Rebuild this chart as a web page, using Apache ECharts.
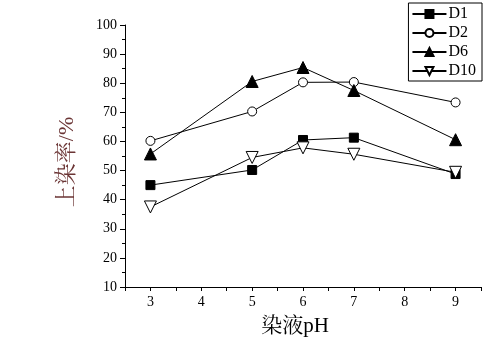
<!DOCTYPE html>
<html>
<head>
<meta charset="utf-8">
<script src="https://cdn.jsdelivr.net/npm/echarts@6/dist/echarts.min.js"></script>
<style>html,body{margin:0;padding:0;background:#fff}#c{width:504px;height:343px}</style>
</head>
<body>
<div id="c"></div>
<script>
const phValues = [3, 5, 6, 7, 9];
const d1 = [45, 50.2, 60.5, 61.3, 48.8];
const d2 = [60.2, 70.3, 80.3, 80.4, 73.4];
const d6 = [55.7, 80.6, 85.4, 77.5, 60.6];
const d10 = [37.5, 54.5, 57.8, 55.6, 49.4];
const seriesNames = ['D1', 'D2', 'D6', 'D10'];
const xAxisName = '染液pH';
const yAxisName = '上染率/%';

const font = '"Liberation Serif","Times New Roman","Noto Serif CJK SC","Noto Sans CJK SC",serif';
const pair = arr => phValues.map((x, i) => [x, arr[i]]);

function mk(name, data, symbol, size, rot, fill) {
  return {
    name, type: 'line', data: pair(data), symbol, symbolSize: size,
    symbolRotate: rot, showSymbol: true,
    lineStyle: {color: '#000', width: 1},
    itemStyle: {color: fill, borderColor: '#000', borderWidth: 1},
    emphasis: {disabled: true}, z: 3
  };
}

const chart = echarts.init(document.getElementById('c'), null, {renderer: 'canvas'});
chart.setOption({
  animation: false,
  backgroundColor: '#fff',
  grid: {left: 125, right: 23, top: 25, bottom: 56},
  legend: {
    orient: 'vertical', right: 22, top: 3,
    itemWidth: 34, itemHeight: 10, itemGap: 3,
    borderColor: '#000', borderWidth: 1, padding: [3, 6, 2, 3],
    textStyle: {fontFamily: font, fontSize: 16, color: '#000', lineHeight: 16, padding: [0, 0, 0, -3]},
    data: seriesNames
  },
  xAxis: {
    type: 'value', min: 2.5, max: 9.5, interval: 0.5,
    name: xAxisName, nameLocation: 'middle', nameGap: 29,
    nameTextStyle: {fontFamily: font, fontSize: 21, color: '#000', padding: [0, 16, 0, 0]},
    axisLine: {lineStyle: {color: '#000', width: 1}},
    axisTick: {length: 4, lineStyle: {color: '#000'}},
    axisLabel: {
      fontFamily: font, fontSize: 14, color: '#000', margin: 8,
      formatter: v => (Number.isInteger(v) && v >= 3 && v <= 9) ? String(v) : ''
    },
    splitLine: {show: false}
  },
  yAxis: {
    type: 'value', min: 10, max: 100, interval: 10,
    name: yAxisName, nameLocation: 'middle', nameGap: 47, nameRotate: 90,
    nameTextStyle: {fontFamily: font, fontSize: 22, color: '#6b3535', padding: [0, 12, 0, 0]},
    axisLine: {show: true, lineStyle: {color: '#000', width: 1}},
    axisTick: {show: true, length: 5, lineStyle: {color: '#000'}},
    minorTick: {show: true, splitNumber: 2, length: 3, lineStyle: {color: '#000'}},
    axisLabel: {fontFamily: font, fontSize: 14, color: '#000', margin: 8},
    splitLine: {show: false}
  },
  series: [
    mk('D1', d1, 'rect', 9, 0, '#000'),
    mk('D2', d2, 'circle', 9, 0, '#fff'),
    mk('D6', d6, 'triangle', 12, 0, '#000'),
    mk('D10', d10, 'triangle', 12, 180, '#fff')
  ]
});
</script>
</body>
</html>
